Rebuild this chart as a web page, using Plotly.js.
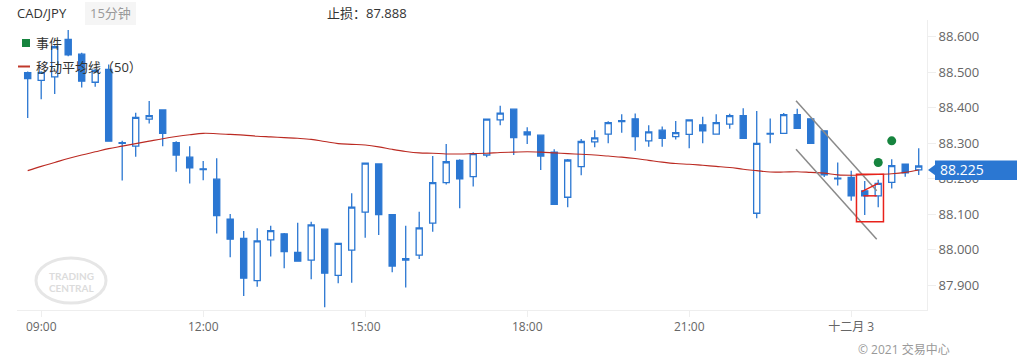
<!DOCTYPE html>
<html>
<head>
<meta charset="utf-8">
<script src="https://cdn.plot.ly/plotly-3.0.1.min.js"></script>
<style>
html,body{margin:0;padding:0;background:#fff;}
#chart{width:1017px;height:361px;}
</style>
</head>
<body>
<div id="chart"></div>
<script>
// ---- data ----
var startTime = "2021-12-02T08:45:00";
var stepMinutes = 15;

var openVals = [88.499,88.477,88.487,88.593,88.551,88.472,88.508,88.302,88.292,88.368,
  88.394,88.302,88.261,88.228,88.199,88.086,88.032,87.913,88.028,88.045,
  87.993,87.971,88.058,87.928,87.999,88.106,88.242,88.099,87.971,87.985,
  88.075,88.189,88.252,88.206,88.267,88.366,88.396,88.332,88.323,88.275,
  88.148,88.234,88.304,88.326,88.364,88.369,88.307,88.337,88.319,88.325,
  88.352,88.326,88.354,88.378,88.103,88.328,88.328,88.381,88.369,88.335,
  88.202,88.204,88.166,88.152,88.190,88.241,88.225];
var highVals = [88.502,88.503,88.576,88.619,88.555,88.510,88.522,88.307,88.386,88.419,
  88.395,88.306,88.292,88.250,88.258,88.101,88.053,88.061,88.068,88.047,
  88.076,88.079,88.060,88.020,88.159,88.245,88.243,88.100,88.068,88.107,
  88.264,88.298,88.255,88.275,88.370,88.406,88.397,88.345,88.325,88.283,
  88.256,88.312,88.337,88.362,88.382,88.384,88.351,88.347,88.363,88.366,
  88.375,88.382,88.383,88.399,88.391,88.370,88.385,88.397,88.370,88.336,
  88.246,88.223,88.194,88.197,88.255,88.242,88.286];
var lowVals = [88.371,88.424,88.439,88.545,88.457,88.459,88.305,88.195,88.262,88.356,
  88.292,88.220,88.187,88.196,88.046,87.979,87.870,87.896,87.981,87.948,
  87.966,87.917,87.838,87.906,87.907,88.034,88.042,87.937,87.894,87.974,
  88.051,88.184,88.117,88.178,88.261,88.351,88.267,88.298,88.225,88.127,
  88.120,88.210,88.289,88.300,88.330,88.279,88.290,88.290,88.311,88.286,
  88.300,88.325,88.341,88.313,88.089,88.300,88.327,88.340,88.298,88.205,
  88.181,88.138,88.098,88.120,88.173,88.206,88.211];
var closeVals = [88.482,88.500,88.572,88.549,88.475,88.505,88.306,88.300,88.373,88.378,
  88.328,88.267,88.231,88.226,88.096,88.030,87.920,88.025,88.054,87.995,
  87.968,88.070,87.934,88.018,88.120,88.244,88.099,87.954,87.975,88.062,
  88.189,88.248,88.200,88.271,88.368,88.385,88.316,88.324,88.264,88.128,
  88.253,88.305,88.315,88.358,88.361,88.319,88.332,88.314,88.330,88.366,
  88.335,88.358,88.378,88.314,88.300,88.326,88.381,88.342,88.300,88.211,
  88.200,88.152,88.152,88.187,88.237,88.217,88.236];
var maVals = [88.223,88.235,88.246,88.257,88.267,88.276,88.285,88.292,88.299,88.306,
  88.313,88.319,88.324,88.328,88.327,88.325,88.323,88.320,88.318,88.316,
  88.314,88.311,88.305,88.299,88.297,88.295,88.290,88.283,88.277,88.273,
  88.272,88.270,88.270,88.271,88.272,88.274,88.275,88.276,88.275,88.273,
  88.271,88.269,88.267,88.264,88.261,88.257,88.252,88.247,88.243,88.241,
  88.238,88.235,88.232,88.227,88.223,88.219,88.219,88.220,88.218,88.216,
  88.211,88.210,88.211,88.212,88.214,88.218,88.225];

var eventTimes = ["2021-12-03 00:30:00","2021-12-03 00:45:00"];
var eventVals = [88.246, 88.307];

var tickTimes = ["2021-12-02 09:00:00","2021-12-02 12:00:00","2021-12-02 15:00:00",
                 "2021-12-02 18:00:00","2021-12-02 21:00:00","2021-12-03 00:00:00"];
var tickLabels = ["09:00","12:00","15:00","18:00","21:00","十二月 3"];
var priceTicks = [87.9,88.0,88.1,88.2,88.3,88.4,88.5,88.6];
var lastPrice = 88.225;
var stopLoss = "87.888";

// drawn channel and box (time, price)
var upperLineT = ["2021-12-02 22:58:40","2021-12-03 00:28:20"], upperLineP = [88.420, 88.166];
var lowerLineT = ["2021-12-02 22:58:40","2021-12-03 00:28:20"], lowerLineP = [88.283, 88.030];
var boxT = ["2021-12-03 00:05:50","2021-12-03 00:35:50"], boxP = [88.079, 88.213];
var diagT = ["2021-12-03 00:11:36","2021-12-03 00:30:00"], diagP = [88.164, 88.187];
var horzT = ["2021-12-03 00:13:30","2021-12-03 00:28:20"], horzP = [88.152, 88.152];

// ---- build times ----
function pad(n){return (n<10?'0':'')+n;}
var times = [];
(function(){
  var base = new Date(startTime+"Z").getTime();
  for (var i=0;i<openVals.length;i++){
    var d = new Date(base + i*stepMinutes*60000);
    times.push(d.getUTCFullYear()+'-'+pad(d.getUTCMonth()+1)+'-'+pad(d.getUTCDate())+' '+pad(d.getUTCHours())+':'+pad(d.getUTCMinutes())+':00');
  }
})();

var BLUE = '#2b77d2';
var FONT = 'Open Sans, Noto Sans CJK SC, sans-serif';

var traces = [
  {
    type:'candlestick', x: times, open: openVals, high: highVals, low: lowVals, close: closeVals,
    increasing:{line:{color:BLUE,width:1.3}, fillcolor:'#ffffff'},
    decreasing:{line:{color:BLUE,width:1.3}, fillcolor:BLUE},
    whiskerwidth:0, hoverinfo:'skip', showlegend:false
  },
  {
    type:'scatter', mode:'lines', x: times, y: maVals,
    line:{color:'#bb2a22', width:1.1, shape:'spline'}, hoverinfo:'skip', showlegend:false
  },
  {
    type:'scatter', mode:'markers', x: eventTimes, y: eventVals,
    marker:{color:'#16843e', size:9}, hoverinfo:'skip', showlegend:false
  }
];

function py(px){ return (310-px)/290; }
function pxX(px){ return (px-17)/910; }

var shapes = [
  {type:'line', xref:'x', yref:'y', x0:upperLineT[0], x1:upperLineT[1], y0:upperLineP[0], y1:upperLineP[1], line:{color:'#8a8a8a', width:1.5}},
  {type:'line', xref:'x', yref:'y', x0:lowerLineT[0], x1:lowerLineT[1], y0:lowerLineP[0], y1:lowerLineP[1], line:{color:'#8a8a8a', width:1.5}},
  {type:'rect', xref:'x', yref:'y', x0:boxT[0], x1:boxT[1], y0:boxP[0], y1:boxP[1], line:{color:'#e8221b', width:1.5}},
  {type:'line', xref:'x', yref:'y', x0:diagT[0], x1:diagT[1], y0:diagP[0], y1:diagP[1], line:{color:'#e8221b', width:1.5}},
  {type:'line', xref:'x', yref:'y', x0:horzT[0], x1:horzT[1], y0:horzP[0], y1:horzP[1], line:{color:'#e8221b', width:1.5}},
  // legend swatches
  {type:'rect', xref:'paper', yref:'paper', x0:pxX(22), x1:pxX(30), y0:py(47), y1:py(39), fillcolor:'#16843e', line:{width:0}},
  {type:'line', xref:'paper', yref:'paper', x0:pxX(18), x1:pxX(30), y0:py(66.5), y1:py(66.5), line:{color:'#c0392b', width:2}},
  // watermark ellipse
  {type:'circle', xref:'paper', yref:'paper', x0:pxX(36), x1:pxX(106), y0:py(303), y1:py(258), line:{color:'#e6e6e6', width:3}, layer:'below'},
  // timeframe badge
  {type:'rect', xref:'paper', yref:'paper', x0:pxX(85), x1:pxX(136), y0:py(25), y1:py(2), fillcolor:'#f5f5f5', line:{width:0}},
  // price tag
  {type:'rect', xref:'paper', yref:'paper', x0:pxX(935), x1:pxX(1017), y0:py(180), y1:py(160.5), fillcolor:BLUE, line:{width:0}},
  {type:'path', xref:'paper', yref:'paper', path:'M '+pxX(928)+','+py(170)+' L '+pxX(935.5)+','+py(164.5)+' L '+pxX(935.5)+','+py(175.5)+' Z', fillcolor:BLUE, line:{width:0}}
];

var annotations = [
  {xref:'paper', yref:'paper', x:pxX(15), y:py(13), xanchor:'left', yanchor:'middle', text:'CAD/JPY', showarrow:false, font:{family:FONT, size:13, color:'#333'}},
  {xref:'paper', yref:'paper', x:pxX(110.5), y:py(13), xanchor:'center', yanchor:'middle', text:'15分钟', showarrow:false, font:{family:FONT, size:13, color:'#999'}},
  {xref:'paper', yref:'paper', x:pxX(325), y:py(13), xanchor:'left', yanchor:'middle', text:'止损：'+stopLoss, showarrow:false, font:{family:FONT, size:13, color:'#333'}},
  {xref:'paper', yref:'paper', x:pxX(34), y:py(43), xanchor:'left', yanchor:'middle', text:'事件', showarrow:false, font:{family:FONT, size:13, color:'#333'}},
  {xref:'paper', yref:'paper', x:pxX(34), y:py(67), xanchor:'left', yanchor:'middle', text:'移动平均线（50）', showarrow:false, font:{family:FONT, size:13, color:'#333'}},
  {xref:'paper', yref:'paper', x:pxX(71), y:py(275.5), xanchor:'center', yanchor:'middle', text:'<b>TRADING</b>', showarrow:false, font:{family:'Lato, Open Sans, sans-serif', size:10, color:'#dcdcdc'}},
  {xref:'paper', yref:'paper', x:pxX(71), y:py(287.5), xanchor:'center', yanchor:'middle', text:'<b>CENTRAL</b>', showarrow:false, font:{family:'Lato, Open Sans, sans-serif', size:10, color:'#dcdcdc'}},
  {xref:'paper', yref:'y', x:pxX(938), y:lastPrice, xanchor:'left', yanchor:'middle', text:lastPrice.toFixed(3), showarrow:false, font:{family:FONT, size:14, color:'#ffffff'}},
  {xref:'paper', yref:'paper', x:pxX(952), y:py(349), xanchor:'right', yanchor:'middle', text:'© 2021 交易中心', showarrow:false, font:{family:FONT, size:12, color:'#999'}}
];

var layout = {
  width:1017, height:361,
  margin:{l:17, r:90, t:20, b:51, pad:0},
  paper_bgcolor:'#ffffff', plot_bgcolor:'#ffffff',
  showlegend:false,
  boxgap:0.35,
  font:{family:FONT, color:'#666'},
  xaxis:{
    type:'date',
    range:["2021-12-02 08:33:07","2021-12-03 01:24:12"],
    rangeslider:{visible:false},
    tickmode:'array', tickvals:tickTimes, ticktext:tickLabels,
    showgrid:false, zeroline:false,
    showline:true, linecolor:'#eeeeee', linewidth:1,
    ticks:'outside', ticklen:6, tickcolor:'#eeeeee',
    tickfont:{family:FONT, size:12, color:'#666'},
    fixedrange:true
  },
  yaxis:{
    side:'right',
    range:[87.8304, 88.6473],
    tickmode:'array', tickvals:priceTicks,
    tickformat:'.3f',
    showgrid:false, zeroline:false,
    showline:true, linecolor:'#eeeeee', linewidth:1,
    ticks:'outside', ticklen:8, tickcolor:'#eeeeee',
    tickfont:{family:FONT, size:13, color:'#666'},
    fixedrange:true
  },
  shapes:shapes,
  annotations:annotations
};

Plotly.newPlot('chart', traces, layout, {displayModeBar:false, staticPlot:true});
</script>
</body>
</html>
